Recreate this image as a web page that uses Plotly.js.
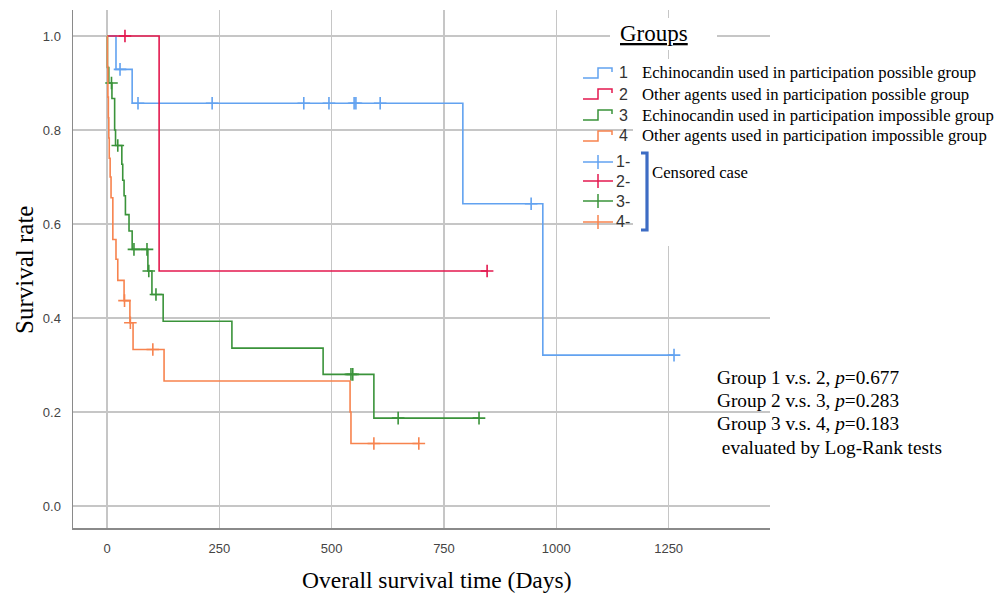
<!DOCTYPE html>
<html><head><meta charset="utf-8">
<script src="https://cdn.plot.ly/plotly-3.0.1.min.js"></script>
<style>html,body{margin:0;padding:0;background:#fff}#chart{width:997px;height:594px}</style>
</head><body><div id="chart"></div>
<script>
// ---------- data ----------
const groupIds = ['1', '2', '3', '4'];
const groupLabels = [
  'Echinocandin used in participation possible group',
  'Other agents used in participation possible group',
  'Echinocandin used in participation impossible group',
  'Other agents used in participation impossible group'
];
const censorIds = ['1-', '2-', '3-', '4-'];

// Kaplan-Meier steps: event time (days) and survival after the step
const g1Times = [0, 20, 56, 792, 970];
const g1Surv = [1, 0.929, 0.857, 0.643, 0.321];
const g1Censor = [29, 69, 234, 438, 494, 550, 554, 608, 944, 1262];

const g2Times = [0, 116];
const g2Surv = [1, 0.5];
const g2Censor = [40, 846];

const g3Times = [0, 1, 4, 11, 17, 19, 33, 35, 38, 41, 49, 56, 91, 100, 125, 278, 481, 594];
const g3Surv = [1, 0.933, 0.900, 0.867, 0.800, 0.767, 0.727, 0.693, 0.660, 0.620, 0.585, 0.546, 0.500, 0.450, 0.393, 0.336, 0.280, 0.187];
const g3Censor = [10, 24, 60, 89, 93, 109, 543, 547, 648, 828];

const g4Times = [0, 1, 2, 3, 4, 5, 7, 9, 13, 20, 24, 38, 51, 58, 127, 541, 543];
const g4Surv = [1, 0.935, 0.870, 0.826, 0.783, 0.740, 0.700, 0.656, 0.567, 0.525, 0.480, 0.437, 0.390, 0.333, 0.266, 0.200, 0.133];
const g4Censor = [39, 52, 102, 594, 694];

const xTicks = [0, 250, 500, 750, 1000, 1250];
const yTicks = [0.0, 0.2, 0.4, 0.6, 0.8, 1.0];
const pValueLines = [
  'Group 1 v.s. 2, <i>p</i>=0.677',
  'Group 2 v.s. 3, <i>p</i>=0.283',
  'Group 3 v.s. 4, <i>p</i>=0.183',
  ' evaluated by Log-Rank tests'
];

// ---------- styling ----------
const colors = ['#62a2f0', '#e3194f', '#3a933a', '#f7834e'];
const SERIF = "'Liberation Serif', 'Times New Roman', Times, serif";
const SANS = "'Liberation Sans Narrow', 'Arial Narrow', 'Liberation Sans', Arial, sans-serif";
const SANS2 = "'Liberation Sans', Arial, sans-serif";

// plot area in pixels: x 73..770, y 10..528
const PL = 73, PR = 770, PT = 10, PB = 528;
const xp = px => (px - PL) / (PR - PL);
const yp = py => (PB - py) / (PB - PT);

function survAt(times, surv, t) {
  let s = surv[0];
  for (let i = 0; i < times.length; i++) if (times[i] <= t) s = surv[i];
  return s;
}

const groups = [
  [g1Times, g1Surv, g1Censor],
  [g2Times, g2Surv, g2Censor],
  [g3Times, g3Surv, g3Censor],
  [g4Times, g4Surv, g4Censor]
];

const traces = [];
groups.forEach(([t, s, c], i) => {
  const end = Math.max(t[t.length - 1], ...c);
  traces.push({
    x: t.concat([end]), y: s.concat([survAt(t, s, end)]),
    type: 'scatter', mode: 'lines',
    line: {shape: 'hv', color: colors[i], width: 1.6},
    hoverinfo: 'skip', showlegend: false
  });
  traces.push({
    x: c, y: c.map(v => survAt(t, s, v)),
    type: 'scatter', mode: 'markers',
    marker: {symbol: 'cross-thin', size: 9, line: {color: colors[i], width: 1.6}},
    hoverinfo: 'skip', showlegend: false
  });
});

// ---------- custom legend ----------
const shapes = [];
const annotations = [];
shapes.push({type: 'rect', xref: 'paper', yref: 'paper', layer: 'above',
  x0: xp(610), x1: xp(717), y0: yp(50), y1: yp(18), fillcolor: '#fff', line: {width: 0}});
shapes.push({type: 'rect', xref: 'paper', yref: 'paper', layer: 'above',
  x0: xp(633), x1: xp(771), y0: yp(246), y1: yp(59), fillcolor: '#fff', line: {width: 0}});

annotations.push({xref: 'paper', yref: 'paper', x: xp(654), y: yp(33), showarrow: false,
  xanchor: 'center', yanchor: 'middle', text: '<u>Groups</u>',
  font: {family: SERIF, size: 23, color: '#000'}});

const rowY = [73, 94, 115, 136];
const cRowY = [162, 181, 201, 222];
rowY.forEach((y, i) => {
  const path = `M ${xp(583)},${yp(y + 5)} L ${xp(598)},${yp(y + 5)} L ${xp(598)},${yp(y - 5)} L ${xp(612)},${yp(y - 5)} L ${xp(612)},${yp(y - 1)}`;
  shapes.push({type: 'path', xref: 'paper', yref: 'paper', layer: 'above', path,
    line: {color: colors[i], width: 1.5}});
  annotations.push({xref: 'paper', yref: 'paper', x: xp(617), y: yp(y), showarrow: false,
    xanchor: 'left', yanchor: 'middle', text: groupIds[i],
    font: {family: SANS2, size: 16, color: '#333'}});
  annotations.push({xref: 'paper', yref: 'paper', x: xp(640), y: yp(y), showarrow: false,
    xanchor: 'left', yanchor: 'middle', text: groupLabels[i],
    font: {family: SERIF, size: 16.7, color: '#000'}});
});
cRowY.forEach((y, i) => {
  shapes.push({type: 'line', xref: 'paper', yref: 'paper', layer: 'above',
    x0: xp(583), x1: xp(613), y0: yp(y), y1: yp(y), line: {color: colors[i], width: 1.5}});
  shapes.push({type: 'line', xref: 'paper', yref: 'paper', layer: 'above',
    x0: xp(598), x1: xp(598), y0: yp(y - 7), y1: yp(y + 7), line: {color: colors[i], width: 1.5}});
  annotations.push({xref: 'paper', yref: 'paper', x: xp(614), y: yp(y), showarrow: false,
    xanchor: 'left', yanchor: 'middle', text: censorIds[i],
    font: {family: SANS2, size: 16, color: '#333'}});
});
shapes.push({type: 'path', xref: 'paper', yref: 'paper', layer: 'above',
  path: `M ${xp(641)},${yp(153)} L ${xp(647)},${yp(153)} L ${xp(647)},${yp(230)} L ${xp(641)},${yp(230)}`,
  line: {color: '#3d6cc4', width: 3.2}});
annotations.push({xref: 'paper', yref: 'paper', x: xp(650), y: yp(172), showarrow: false,
  xanchor: 'left', yanchor: 'middle', text: 'Censored case',
  font: {family: SERIF, size: 16.7, color: '#000'}});

// p-value notes
const pY = [377, 400, 423, 447];
pValueLines.forEach((txt, i) => {
  annotations.push({xref: 'paper', yref: 'paper', x: xp(715), y: yp(pY[i]), showarrow: false,
    xanchor: 'left', yanchor: 'middle', text: txt,
    font: {family: SERIF, size: 19.3, color: '#000'}});
});

// axis titles
annotations.push({xref: 'paper', yref: 'paper', x: xp(437), y: yp(580), showarrow: false,
  xanchor: 'center', yanchor: 'middle', text: 'Overall survival time (Days)',
  font: {family: SERIF, size: 23.5, color: '#000'}});
annotations.push({xref: 'paper', yref: 'paper', x: xp(24), y: yp(270), showarrow: false,
  xanchor: 'center', yanchor: 'middle', textangle: -90, text: 'Survival rate',
  font: {family: SERIF, size: 25, color: '#000'}});

const layout = {
  width: 997, height: 594,
  margin: {l: PL, r: 997 - PR, t: PT, b: 594 - PB, pad: 0},
  paper_bgcolor: '#fff', plot_bgcolor: '#fff',
  showlegend: false,
  xaxis: {
    range: [(PL - 107) / 0.4493, (PR - 107) / 0.4493],
    tickvals: xTicks, ticktext: xTicks.map(String),
    showgrid: true, gridcolor: '#c6c6c6', gridwidth: 1.5,
    zeroline: false, showline: true, linecolor: '#8a8a8a', linewidth: 1.5,
    ticks: 'outside', ticklen: 8, tickcolor: 'rgba(0,0,0,0)',
    tickfont: {family: SANS, size: 13, color: '#444'}
  },
  yaxis: {
    range: [-22 / 470, 1 + 26 / 470],
    tickvals: yTicks, ticktext: yTicks.map(v => v.toFixed(1)),
    showgrid: true, gridcolor: '#c6c6c6', gridwidth: 1.5,
    zeroline: false, showline: true, linecolor: '#8a8a8a', linewidth: 1.5,
    ticks: 'outside', ticklen: 8, tickcolor: 'rgba(0,0,0,0)',
    tickfont: {family: SANS, size: 13, color: '#444'}
  },
  shapes, annotations
};

Plotly.newPlot('chart', traces, layout, {staticPlot: true, displayModeBar: false});
</script>
</body></html>
